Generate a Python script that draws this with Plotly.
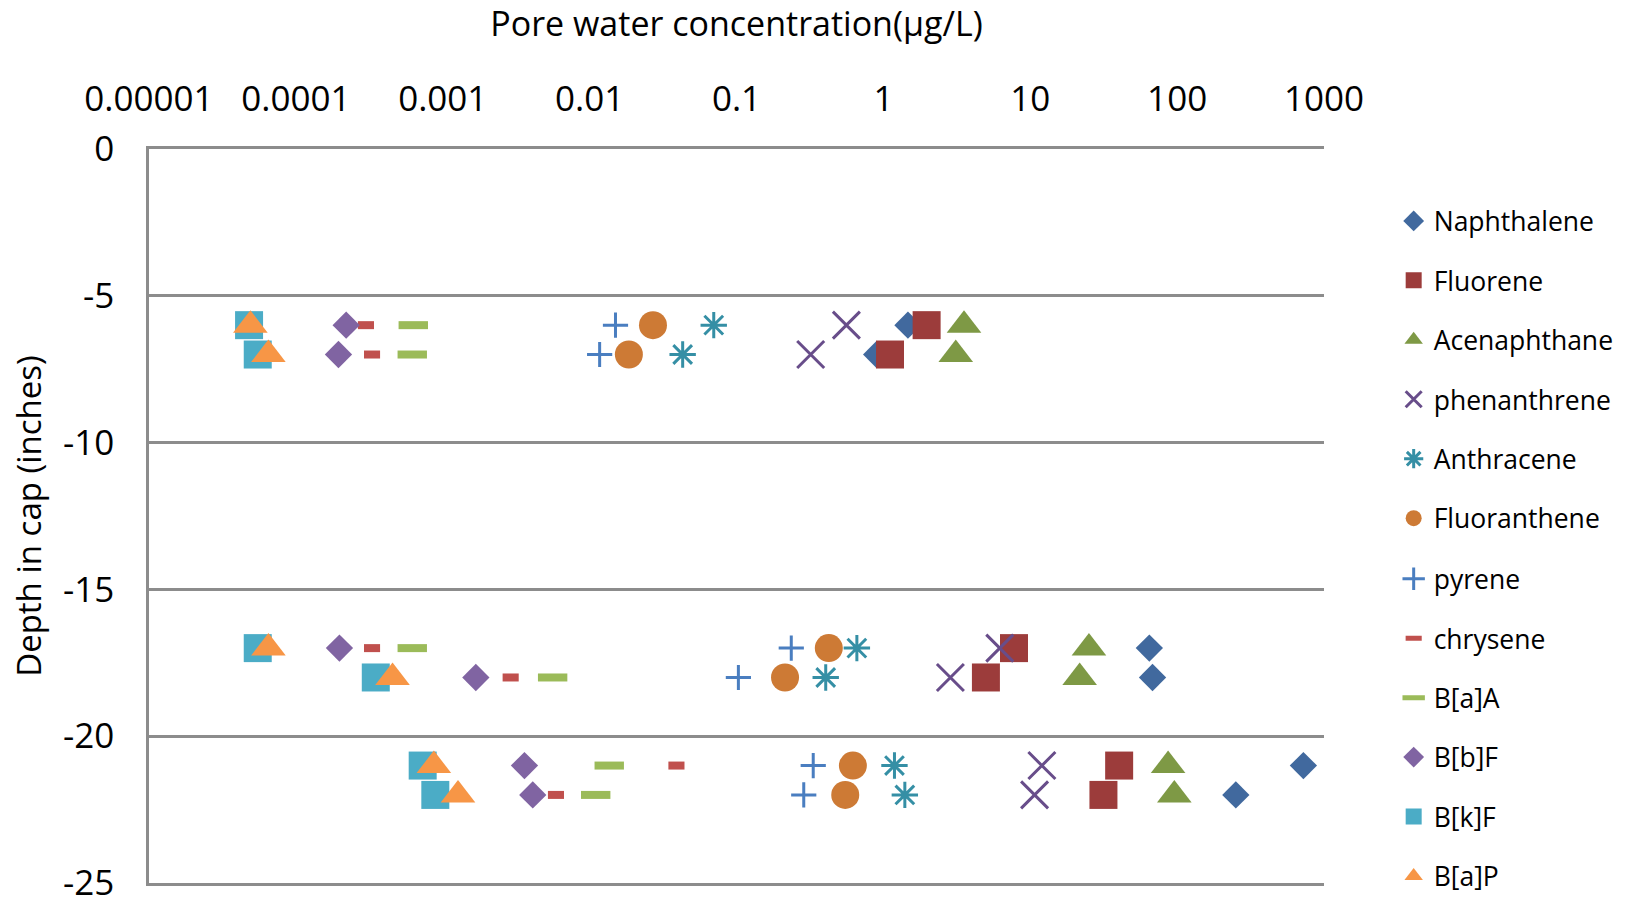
import plotly.graph_objects as go

# Depths (inches) at which pore water was sampled
depths = [-6, -7, -17, -18, -21, -22]

# Pore water concentrations (ug/L), one value per depth
naphthalene = [1.47, 0.90, 64.7, 68.0, 724, 251]
fluorene = [1.97, 1.11, 7.75, 4.99, 40.3, 31.5]
acenaphthane = [3.54, 3.11, 25.1, 21.7, 86.8, 95.7]
phenanthrene = [0.56, 0.32, 6.2, 2.86, 12.0, 10.7]
anthracene = [0.070, 0.043, 0.66, 0.405, 1.19, 1.40]
fluoranthene = [0.027, 0.0185, 0.425, 0.214, 0.62, 0.55]
pyrene = [0.015, 0.0117, 0.236, 0.103, 0.333, 0.287]
chrysene = [3.0e-4, 3.3e-4, 3.3e-4, 2.9e-3, 0.039, 5.9e-3]
b_a_a = [6.3e-4, 6.2e-4, 6.2e-4, 5.6e-3, 0.0136, 0.011]
b_b_f = [2.2e-4, 1.95e-4, 1.98e-4, 1.68e-3, 3.6e-3, 4.1e-3]
b_k_f = [4.8e-5, 5.5e-5, 5.5e-5, 3.5e-4, 7.3e-4, 8.9e-4]
b_a_p = [4.9e-5, 6.5e-5, 6.5e-5, 4.55e-4, 8.7e-4, 1.27e-3]

series_names = ["Naphthalene", "Fluorene", "Acenaphthane", "phenanthrene",
                "Anthracene", "Fluoranthene", "pyrene", "chrysene",
                "B[a]A", "B[b]F", "B[k]F", "B[a]P"]
series_values = [naphthalene, fluorene, acenaphthane, phenanthrene,
                 anthracene, fluoranthene, pyrene, chrysene,
                 b_a_a, b_b_f, b_k_f, b_a_p]

x_tick_vals = [1e-5, 1e-4, 1e-3, 1e-2, 1e-1, 1, 10, 100, 1000]
x_tick_text = ["0.00001", "0.0001", "0.001", "0.01", "0.1", "1", "10", "100", "1000"]
y_tick_vals = [0, -5, -10, -15, -20, -25]
y_tick_text = ["0", "-5", "-10", "-15", "-20", "-25"]

# marker styles (symbol, size, color, line width)
styles = [
    ("diamond", 21, "#41699E", 0),
    ("square", 28, "#9C3C3B", 0),
    ("triangle-up", 30, "#7E9945", 0),
    ("x-thin-open", 27, "#684D8A", 3),
    ("asterisk-open", 22, "#358FA5", 3),
    ("circle", 28, "#CD7A35", 0),
    ("cross-thin-open", 18, "#4A7EC0", 3),
    ("line-ew-open", 11.5, "#C0504D", 8),
    ("line-ew-open", 21, "#9BBB59", 8),
    ("diamond", 21, "#8064A2", 0),
    ("square", 28, "#4BACC6", 0),
    ("triangle-up", 30, "#F79646", 0),
]

fig = go.Figure()
for i, (name, vals) in enumerate(zip(series_names, series_values)):
    sym, size, color, lw = styles[i]
    marker = dict(symbol=sym, size=size, color=color)
    if lw:
        marker["line"] = dict(color=color, width=lw)
    else:
        marker["line"] = dict(width=0)
    fig.add_trace(go.Scatter(x=vals, y=depths, mode="markers", name=name,
                             legendgroup=name, marker=marker,
                             legend="legend" if i < 6 else "legend2"))

FONT = "Open Sans"
grid = "#8C8C8C"
legend_style = dict(xanchor="left", yanchor="top",
                    font=dict(size=26.5, family=FONT, color="black"),
                    tracegroupgap=22, bgcolor="rgba(0,0,0,0)")
fig.update_layout(
    width=1632, height=897,
    margin=dict(l=149, r=308, t=149, b=14, autoexpand=False),
    paper_bgcolor="white", plot_bgcolor="white",
    font=dict(family=FONT, color="black"),
    showlegend=True,
    legend=dict(x=1.0593, y=0.9344, **legend_style),
    legend2=dict(x=1.0593, y=0.4468, **legend_style),
    xaxis=dict(type="log", side="top", range=[-5, 3],
               tickvals=x_tick_vals, ticktext=x_tick_text,
               tickfont=dict(size=35), showgrid=False, zeroline=False,
               showline=True, linecolor=grid, linewidth=2.5, mirror=True,
               ticks="", ticklabelstandoff=21, ticklabeloverflow="allow",
               automargin=False,
               title=dict(text="Pore water concentration(µg/L)",
                          font=dict(size=34), standoff=39)),
    yaxis=dict(range=[-25, 0], tickvals=y_tick_vals, ticktext=y_tick_text,
               tickfont=dict(size=35), showgrid=True, gridcolor=grid,
               gridwidth=2.5, zeroline=False, showline=True, linecolor=grid,
               linewidth=2.5, ticks="", ticklabelstandoff=25,
               ticklabeloverflow="allow", automargin=False,
               title=dict(text="Depth in cap (inches)",
                          font=dict(size=33), standoff=12)),
)

fig.write_html("out.html")
